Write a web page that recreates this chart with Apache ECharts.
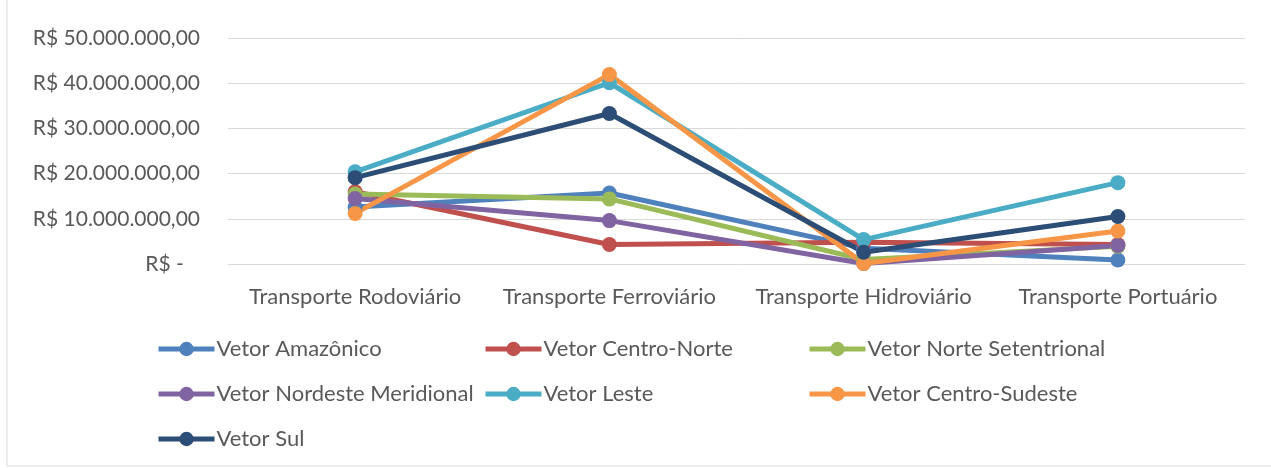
<!DOCTYPE html>
<html>
<head>
<meta charset="utf-8">
<script src="https://cdn.jsdelivr.net/npm/echarts@6/dist/echarts.min.js"></script>
<style>
  html, body { margin: 0; padding: 0; background: #fff; }
  #chart { width: 1271px; height: 468px; }
</style>
</head>
<body>
<div id="chart"></div>
<script>
// ---- dados ----
const categorias = ['Transporte Rodoviário', 'Transporte Ferroviário', 'Transporte Hidroviário', 'Transporte Portuário']

const amazonico = [12600000, 15700000, 3500000, 900000]
const centroNorte = [16000000, 4300000, 4800000, 4300000]
const norteSetentrional = [15500000, 14400000, 1000000, 3900000]
const nordesteMeridional = [14500000, 9600000, 100000, 4100000]
const leste = [20400000, 40100000, 5400000, 18000000]
const centroSudeste = [11200000, 41900000, 100000, 7300000]
const sul = [19100000, 33300000, 2600000, 10500000]

const yTicks = [0, 10000000, 20000000, 30000000, 40000000, 50000000]

const series = [
  { name: 'Vetor Amazônico', data: amazonico, color: '#4F81BD' },
  { name: 'Vetor Centro-Norte', data: centroNorte, color: '#C0504D' },
  { name: 'Vetor Norte Setentrional', data: norteSetentrional, color: '#9BBB59' },
  { name: 'Vetor Nordeste Meridional', data: nordesteMeridional, color: '#8064A2' },
  { name: 'Vetor Leste', data: leste, color: '#4BACC6' },
  { name: 'Vetor Centro-Sudeste', data: centroSudeste, color: '#F79646' },
  { name: 'Vetor Sul', data: sul, color: '#2C4D75' }
]

// formato contábil R$
function fmtReal(v) {
  if (v === 0) return 'R$ -   '
  const s = Math.round(v).toString().replace(/\B(?=(\d{3})+(?!\d))/g, '.')
  return 'R$ ' + s + ',00'
}

const FONT = 'Lato, "Open Sans", sans-serif'
const TXT = '#595959'

const legendBase = {
  orient: 'vertical',
  top: 338,
  padding: 0,
  itemWidth: 56,
  itemHeight: 18,
  itemGap: 23,
  lineStyle: { width: 5 },
  textStyle: { color: TXT, fontSize: 22, lineHeight: 22, fontFamily: FONT, padding: [0, 0, 0, -3] }
}

const chart = echarts.init(document.getElementById('chart'))
chart.setOption({
  animation: false,
  graphic: [{
    type: 'rect',
    shape: { x: 7, y: -5, width: 1300, height: 471 },
    style: { fill: 'none', stroke: '#d9d9d9', lineWidth: 1 },
    silent: true
  }],
  grid: { left: 228, right: 26, top: 38, height: 226, containLabel: false },
  legend: [
    Object.assign({}, legendBase, { left: 156, data: ['Vetor Amazônico', 'Vetor Nordeste Meridional', 'Vetor Sul'] }),
    Object.assign({}, legendBase, { left: 483, data: ['Vetor Centro-Norte', 'Vetor Leste'] }),
    Object.assign({}, legendBase, { left: 807, data: ['Vetor Norte Setentrional', 'Vetor Centro-Sudeste'] })
  ],
  xAxis: {
    type: 'category',
    data: categorias,
    boundaryGap: true,
    axisLine: { lineStyle: { color: '#d9d9d9', width: 1 } },
    axisTick: { show: false },
    axisLabel: { color: TXT, fontSize: 22, fontFamily: FONT, margin: 22, interval: 0, hideOverlap: false }
  },
  yAxis: {
    type: 'value',
    min: yTicks[0],
    max: yTicks[yTicks.length - 1],
    interval: yTicks[1] - yTicks[0],
    axisLine: { show: false },
    axisTick: { show: false },
    splitLine: { lineStyle: { color: '#d9d9d9', width: 1 } },
    axisLabel: { color: TXT, fontSize: 21, fontFamily: FONT, margin: 28, formatter: fmtReal }
  },
  series: series.map(s => ({
    name: s.name,
    type: 'line',
    data: s.data,
    symbol: 'circle',
    symbolSize: 15,
    lineStyle: { width: 5, color: s.color },
    itemStyle: { color: s.color },
    emphasis: { disabled: true }
  }))
})
</script>
</body>
</html>
